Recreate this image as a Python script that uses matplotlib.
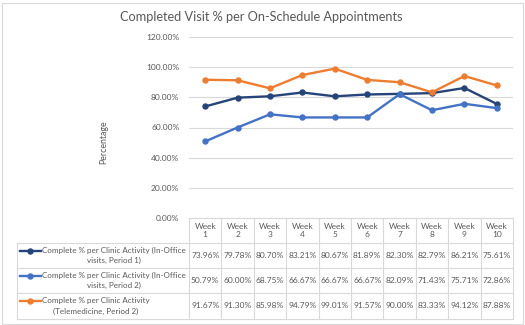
import matplotlib
matplotlib.use("Agg")
import matplotlib.pyplot as plt
import matplotlib.transforms as mtransforms
from matplotlib.patches import Rectangle

plt.rcParams['font.family'] = ['Lato', 'DejaVu Sans']

weeks = ["Week\n1", "Week\n2", "Week\n3", "Week\n4", "Week\n5",
         "Week\n6", "Week\n7", "Week\n8", "Week\n9", "Week\n10"]
in_office_p1 = [73.96, 79.78, 80.70, 83.21, 80.67, 81.89, 82.30, 82.79, 86.21, 75.61]
in_office_p2 = [50.79, 60.00, 68.75, 66.67, 66.67, 66.67, 82.09, 71.43, 75.71, 72.86]
telemed_p2 = [91.67, 91.30, 85.98, 94.79, 99.01, 91.57, 90.00, 83.33, 94.12, 87.88]
series_names = ["Complete % per Clinic Activity (In-Office\nvisits, Period 1)",
                "Complete % per Clinic Activity (In-Office\nvisits, Period 2)",
                "Complete % per Clinic Activity\n(Telemedicine, Period 2)"]
yticks = [0, 20, 40, 60, 80, 100, 120]

colors = ["#264478", "#4472C4", "#ED7D31"]
grid_c = "#D9D9D9"
text_c = "#595959"

W, H = 525, 325
fig = plt.figure(figsize=(W / 100, H / 100), dpi=100)

# chart border
fig.patches.append(Rectangle((1.5 / W, 1.5 / H), (W - 4) / W, (H - 4) / H,
                             transform=fig.transFigure, fill=False,
                             edgecolor="#D9D9D9", lw=0.8))

left, right, top, bot = 189, 513, 37, 218
ax = fig.add_axes([left / W, 1 - bot / H, (right - left) / W, (bot - top) / H])

xs = [i + 0.5 for i in range(len(weeks))]
series = [in_office_p1, in_office_p2, telemed_p2]
for vals, c in zip(series, colors):
    ax.plot(xs, vals, color=c, lw=1.7, marker='o', ms=3.6, zorder=3)

ax.set_xlim(0, len(weeks))
ax.set_ylim(0, 120)
ax.set_yticks(yticks)
ax.set_yticklabels([f"{v:.2f}%" for v in yticks], fontsize=6, color=text_c)
ax.set_xticks([])
ax.tick_params(axis='y', length=0, pad=7)
ax.grid(axis='y', color=grid_c, lw=0.8)
for s in ax.spines.values():
    s.set_visible(False)
ax.set_axisbelow(True)

fig.text(104 / W, 1 - 142 / H, "Percentage", rotation=90, fontsize=6.3,
         color=text_c, ha='center', va='center')
fig.text(261 / W, 1 - 17 / H, "Completed Visit % per On-Schedule Appointments",
         fontsize=9.2, color=text_c, ha='center', va='center')

# data table below the axis, columns tied to the x data scale
tr = mtransforms.blended_transform_factory(ax.transData, fig.transFigure)
px_per_unit = (right - left) / len(weeks)
x_lab = (17 - left) / px_per_unit
n = len(weeks)
row_y = [218, 243, 268, 293, 319]
fy = [1 - y / H for y in row_y]
line_kw = dict(color=grid_c, lw=0.8, transform=tr, clip_on=False)

# horizontal lines
ax.plot([0, n], [fy[0], fy[0]], **line_kw)
for y in fy[1:]:
    ax.plot([x_lab, n], [y, y], **line_kw)
# vertical lines
for i in range(n + 1):
    ax.plot([i, i], [fy[0], fy[-1]], **line_kw)
ax.plot([x_lab, x_lab], [fy[1], fy[-1]], **line_kw)

for i, w in enumerate(weeks):
    ax.text(i + 0.5, (fy[0] + fy[1]) / 2, w, transform=tr, ha='center',
            va='center', fontsize=6, color=text_c, linespacing=1.3)

for r, (vals, name, c) in enumerate(zip(series, series_names, colors)):
    yc = (fy[r + 1] + fy[r + 2]) / 2
    for i, v in enumerate(vals):
        ax.text(i + 0.5, yc, f"{v:.2f}%", transform=tr, ha='center',
                va='center', fontsize=6, color=text_c)
    kx0 = x_lab + 3 / px_per_unit
    kx1 = x_lab + 24 / px_per_unit
    ky = yc + 5 / H
    ax.plot([kx0, kx1], [ky, ky], color=c, lw=1.7, transform=tr, clip_on=False)
    ax.plot([(kx0 + kx1) / 2], [ky], 'o', color=c, ms=3.6, transform=tr,
            clip_on=False)
    ax.text(x_lab + 25 / px_per_unit, yc, name, transform=tr, ha='left',
            va='center', fontsize=5.8, color=text_c, linespacing=1.5,
            multialignment='center')

fig.savefig("out.png", dpi=100)
